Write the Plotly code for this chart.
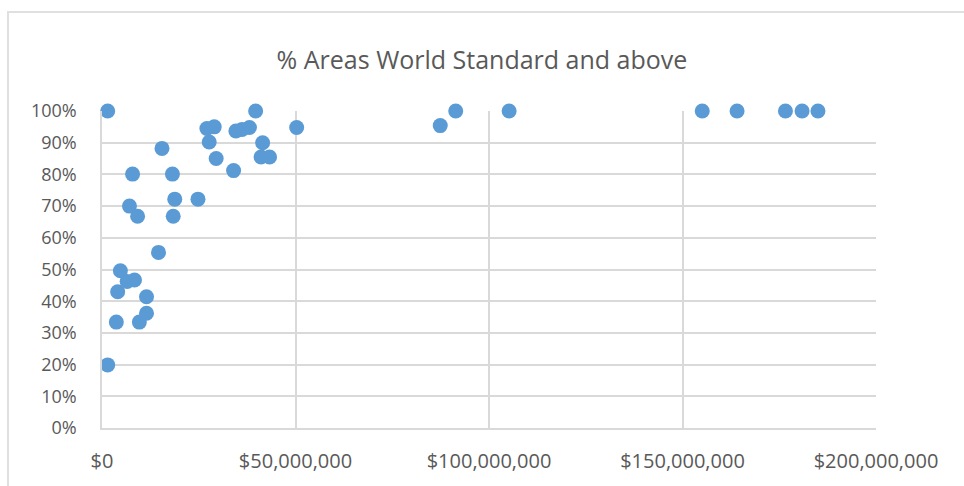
import plotly.graph_objects as go

# Budget per area (USD) and share of areas at world standard or above
budget_usd = [
    1.47e6, 39.7e6, 27.1e6, 29.0e6, 34.6e6, 36.2e6, 38.1e6, 50.3e6,
    27.7e6, 41.5e6, 15.5e6, 29.5e6, 41.1e6, 43.3e6, 34.0e6, 7.9e6,
    18.2e6, 18.8e6, 24.8e6, 7.1e6, 9.2e6, 18.4e6,
    14.6e6, 4.75e6, 6.5e6, 8.4e6, 4.05e6, 11.5e6, 11.5e6, 3.7e6, 9.65e6, 1.47e6,
    87.4e6, 91.4e6, 105.2e6, 155.1e6, 164.1e6, 176.6e6, 180.9e6, 185.0e6,
]
share_world_std = [
    1.00, 1.00, 0.945, 0.95, 0.937, 0.942, 0.948, 0.948,
    0.902, 0.90, 0.882, 0.85, 0.855, 0.855, 0.812, 0.801,
    0.801, 0.722, 0.722, 0.70, 0.668, 0.668,
    0.554, 0.496, 0.462, 0.467, 0.43, 0.414, 0.362, 0.334, 0.334, 0.199,
    0.954, 1.00, 1.00, 1.00, 1.00, 1.00, 1.00, 1.00,
]

x_ticks = [0, 50e6, 100e6, 150e6, 200e6]
x_tick_text = ["$0", "$50,000,000", "$100,000,000", "$150,000,000", "$200,000,000"]
y_ticks = [i / 10 for i in range(11)]
y_tick_text = [f"{i * 10}%" for i in range(11)]

W, H = 964, 486
ML, MR, MT, MB = 101.6, 87.6, 110.7, 57.7
FONT = "Open Sans"
GREY_TXT = "#595959"
GRID = "#D9D9D9"

fig = go.Figure(
    go.Scatter(
        x=budget_usd,
        y=share_world_std,
        mode="markers",
        marker=dict(size=15, color="#5B9BD5", line=dict(width=0)),
        cliponaxis=False,
        hoverinfo="x+y",
    )
)

# outer chart frame (paper coordinates derived from pixel positions)
pw = W - ML - MR
ph = H - MT - MB
def px_x(p):
    return (p - ML) / pw
def px_y(p):
    return (H - MB - p) / ph

fig.add_shape(
    type="rect", xref="paper", yref="paper",
    x0=px_x(7.5), x1=px_x(990), y0=px_y(520), y1=px_y(11.5),
    line=dict(color="#E0E0E0", width=2), fillcolor="rgba(0,0,0,0)", layer="below",
)

fig.update_layout(
    width=W, height=H,
    margin=dict(l=ML, r=MR, t=MT, b=MB, pad=0),
    paper_bgcolor="white", plot_bgcolor="white",
    showlegend=False,
    title=dict(
        text="% Areas World Standard and above",
        x=0.5, xref="container", xanchor="center",
        y=1 - 60 / H, yref="container", yanchor="middle",
        font=dict(family=FONT, size=25, color=GREY_TXT),
    ),
    font=dict(family=FONT, color=GREY_TXT),
)

fig.update_xaxes(
    range=[0, 200e6],
    tickvals=x_ticks, ticktext=x_tick_text,
    tickfont=dict(family=FONT, size=20, color=GREY_TXT),
    showgrid=True, gridcolor=GRID, gridwidth=1.5,
    showline=True, linecolor=GRID, linewidth=1.5,
    zeroline=False, ticks="", ticklabelstandoff=14,
)
fig.update_yaxes(
    range=[0, 1],
    tickvals=y_ticks, ticktext=y_tick_text,
    tickfont=dict(family=FONT, size=18, color=GREY_TXT),
    showgrid=True, gridcolor=GRID, gridwidth=1.5,
    showline=True, linecolor=GRID, linewidth=1.5,
    zeroline=False, ticks="", ticklabelstandoff=20,
)

fig.write_html("out.html")
